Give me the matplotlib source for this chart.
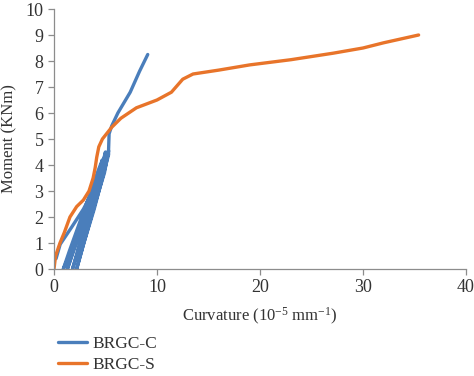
import matplotlib
matplotlib.use("Agg")
import matplotlib.pyplot as plt

# BRGC-C: cyclic loading branch (curvature 10^-5 mm^-1, moment kNm)
c_curv = [0.2, 0.6, 1.7, 2.85, 3.8, 4.5, 4.0, 3.0, 1.8, 0.9,
          1.5, 2.5, 3.5, 4.3, 4.7, 4.2, 3.2, 2.1, 1.3,
          2.0, 3.0, 4.0, 4.8, 5.0, 4.6, 3.6, 2.5, 1.8,
          2.5, 3.5, 4.4, 5.1, 5.3, 4.9, 3.9, 2.9, 2.2,
          2.9, 3.9, 4.7, 5.3, 5.3, 5.35, 5.6, 6.2, 7.4, 8.3, 9.1]
c_mom = [0.4, 0.95, 1.6, 2.3, 3.0, 3.6, 3.0, 1.9, 0.8, 0.0,
         0.7, 1.8, 2.9, 3.8, 4.2, 3.4, 2.2, 1.0, 0.0,
         0.8, 2.0, 3.2, 4.2, 4.5, 3.7, 2.5, 1.0, 0.0,
         0.9, 2.2, 3.4, 4.3, 4.55, 3.7, 2.4, 1.0, 0.0,
         1.0, 2.3, 3.5, 4.4, 4.6, 5.2, 5.5, 6.0, 6.8, 7.6, 8.25]

# BRGC-S: monotonic curve
s_curv = [0.0, 0.15, 0.58, 1.0, 1.55, 2.2, 2.85, 3.4, 3.8, 4.0, 4.15, 4.35,
          4.7, 5.2, 5.6, 6.5, 8.0, 10.0, 11.4, 12.5, 13.5, 16.0, 19.0,
          23.0, 27.1, 30.0, 32.0, 35.4]
s_mom = [0.0, 0.5, 1.0, 1.4, 2.0, 2.4, 2.65, 3.0, 3.5, 3.9, 4.3, 4.7,
         5.0, 5.25, 5.45, 5.8, 6.2, 6.5, 6.8, 7.3, 7.5, 7.65, 7.85,
         8.05, 8.3, 8.5, 8.7, 9.0]

plt.rcParams.update({
    "font.family": "serif",
    "font.serif": ["Liberation Serif", "DejaVu Serif"],
    "mathtext.fontset": "custom",
    "mathtext.rm": "Liberation Serif",
    "mathtext.it": "Liberation Serif:italic",
    "xtick.direction": "out",
    "ytick.direction": "out",
})

fig = plt.figure(figsize=(4.74, 3.76), dpi=100)
ax = fig.add_axes([54 / 474, 1 - 269 / 376, 412 / 474, 260 / 376])

ax.plot(c_curv, c_mom, color="#4a7ebb", lw=2.4, label="BRGC-C",
        solid_joinstyle="round", solid_capstyle="round")
ax.plot(s_curv, s_mom, color="#e8742a", lw=2.4, label="BRGC-S",
        solid_joinstyle="round", solid_capstyle="round")

ax.set_xlim(0, 40)
ax.set_ylim(0, 10)
ax.set_xticks(range(0, 41, 10))
ax.set_yticks(range(0, 11, 1))

for s in ["top", "right"]:
    ax.spines[s].set_visible(False)
for s in ["left", "bottom"]:
    ax.spines[s].set_color("#8c8c8c")
    ax.spines[s].set_linewidth(0.9)
ax.tick_params(colors="#8c8c8c", labelcolor="#333333", labelsize=13,
               length=4, width=0.9)

ax.set_xlabel(r"Curvature (10$^{-5}$ mm$^{-1}$)", fontsize=12,
              color="#333333", labelpad=7)
ax.set_ylabel("Moment (KNm)", fontsize=12, color="#333333", labelpad=6)

fig.legend(loc="upper left", bbox_to_anchor=(42 / 474, 1 - 320 / 376),
           frameon=False, fontsize=12.5, handlelength=1.7, handletextpad=0.3,
           labelspacing=0.3, labelcolor="#333333")

fig.savefig("out.png", dpi=100)
